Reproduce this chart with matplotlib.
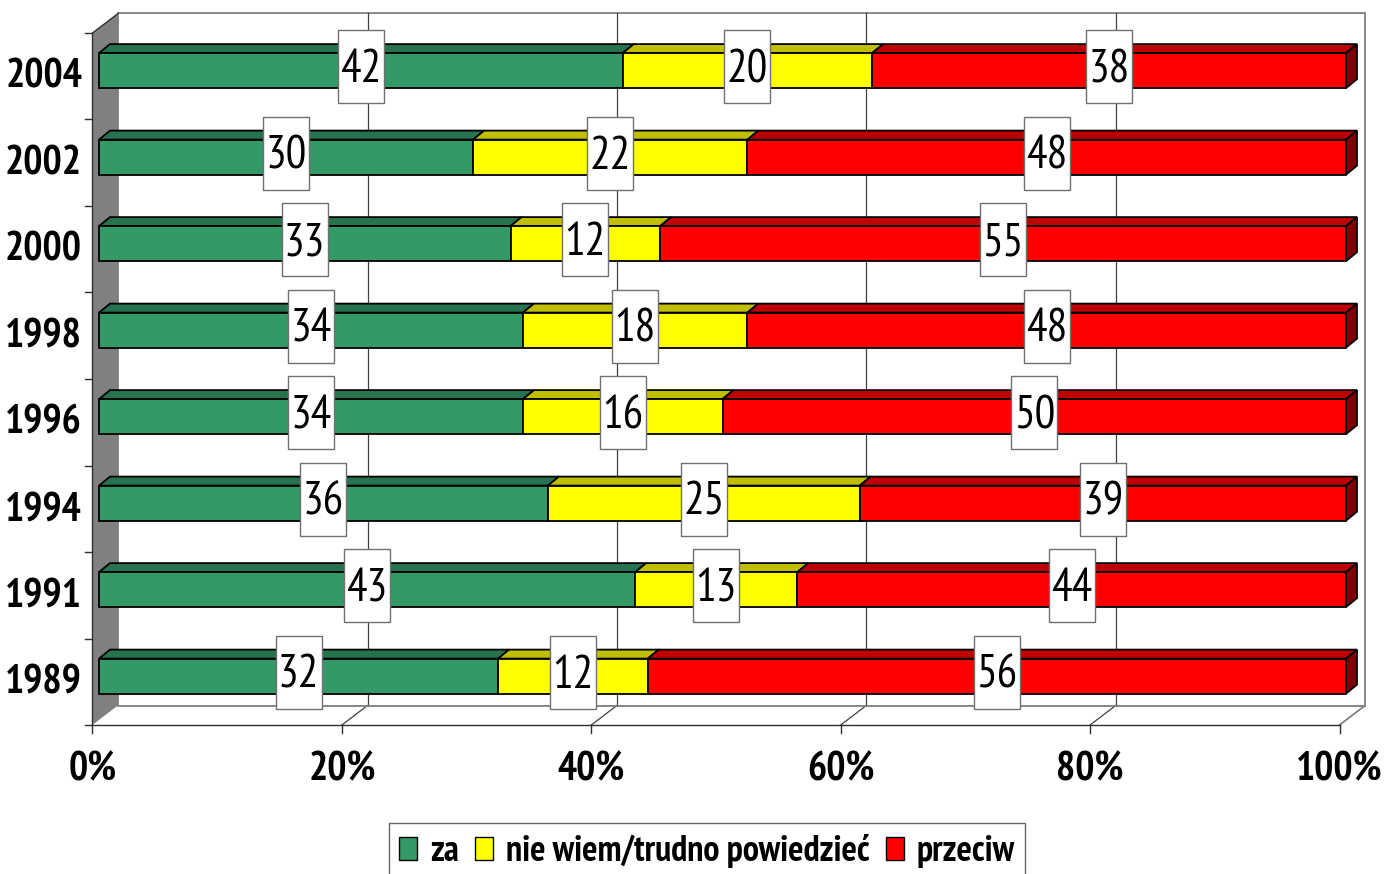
import numpy as np
import matplotlib.pyplot as plt
from matplotlib import font_manager
from matplotlib.patches import Polygon, Rectangle, Patch

# ==========================================
# DATA
# ==========================================

years = ["1989", "1991", "1994", "1996", "1998", "2000", "2002", "2004"]

za = [32, 43, 36, 34, 34, 33, 30, 42]
nie_wiem = [12, 13, 25, 16, 18, 12, 22, 20]
przeciw = [56, 44, 39, 50, 48, 55, 48, 38]

series_names = ["za", "nie wiem/trudno powiedzieć", "przeciw"]
front_colors = ["#339966", "#FFFF00", "#FF0000"]
top_colors = ["#267350", "#BFBF00", "#BF0000"]
side_color = "#800000"

x_ticks = [0, 20, 40, 60, 80, 100]

# ==========================================
# FONT - narrow sans if one is around
# ==========================================

available = {f.name for f in font_manager.fontManager.ttflist}
narrow = ["Liberation Sans Narrow", "Arial Narrow", "PT Sans Narrow",
          "Roboto Condensed", "Fira Sans Condensed", "Archivo Narrow"]
FONT = [f for f in narrow if f in available][:1] + ["DejaVu Sans"]

# ==========================================
# GEOMETRY (pseudo 3D)
# ==========================================

PX = 12.47      # pixels per percent
BAND = 86.5     # pixels per category

DX = 25.6 / PX          # wall depth, x
DY = 19.5 / BAND        # wall depth, y
BAR_X0 = 6.5 / PX       # bar front offset from front plane
BAR_Y0 = 0.065
BAR_H = 0.405
TOP_DX = 11 / PX        # bar depth
TOP_DY = 9 / BAND

fig = plt.figure(figsize=(13.89, 8.74), dpi=100)
fig.patch.set_facecolor("white")
ax = fig.add_axes([0, 0, 1, 1])
ax.set_xlim(-92.5 / PX, (1389 - 92.5) / PX)
ax.set_ylim(-0.5 - 149 / BAND, -0.5 + 725 / BAND)
ax.axis("off")

n = len(years)
y_lo, y_hi = -0.5, n - 0.5

# back wall
ax.add_patch(Rectangle((DX, y_lo + DY), 100, n, facecolor="white",
                       edgecolor="#808080", linewidth=1.3, zorder=1))

# left side wall
ax.add_patch(Polygon([(0, y_lo), (0, y_hi), (DX, y_hi + DY), (DX, y_lo + DY)],
                     closed=True, facecolor="#808080", edgecolor="none", zorder=2))
ax.plot([0, DX], [y_hi, y_hi + DY], color="#303030", lw=1.0, zorder=3)

# floor
ax.add_patch(Polygon([(0, y_lo), (100, y_lo), (100 + DX, y_lo + DY), (DX, y_lo + DY)],
                     closed=True, facecolor="white", edgecolor="none", zorder=2))
ax.plot([100, 100 + DX], [y_lo, y_lo + DY], color="#808080", lw=1.3, zorder=3)
ax.plot([DX, 100 + DX], [y_lo + DY, y_lo + DY], color="#808080", lw=1.3, zorder=3)

# gridlines on back wall and floor
for p in x_ticks[1:-1]:
    ax.plot([p + DX, p + DX], [y_lo + DY, y_hi + DY], color="#404040", lw=0.9, zorder=2)
    ax.plot([p, p + DX], [y_lo, y_lo + DY], color="#404040", lw=0.9, zorder=2)

# axis lines and ticks
ax.plot([0, 0], [y_lo, y_hi], color="#303030", lw=1.0, zorder=3)
ax.plot([0, 100], [y_lo, y_lo], color="#303030", lw=1.0, zorder=3)
for k in range(n + 1):
    ax.plot([-0.6, 0], [y_lo + k, y_lo + k], color="#303030", lw=1.0, zorder=3)
for p in x_ticks:
    ax.plot([p, p], [y_lo, y_lo - 0.095], color="#303030", lw=1.0, zorder=3)

# ==========================================
# BARS
# ==========================================

data = np.array([za, nie_wiem, przeciw], dtype=float)
ypos = np.arange(n) + BAR_Y0
lefts = np.zeros(n)

for s in range(3):
    vals = data[s]
    ax.barh(ypos, vals, left=lefts + BAR_X0, height=BAR_H,
            color=front_colors[s], edgecolor="black", linewidth=1.3, zorder=5)
    for i in range(n):
        x0 = lefts[i] + BAR_X0
        x1 = x0 + vals[i]
        yt = ypos[i] + BAR_H / 2
        ax.add_patch(Polygon([(x0, yt), (x1, yt), (x1 + TOP_DX, yt + TOP_DY),
                              (x0 + TOP_DX, yt + TOP_DY)], closed=True,
                             facecolor=top_colors[s], edgecolor="black",
                             linewidth=1.3, zorder=4))
        if s == 2:
            yb = ypos[i] - BAR_H / 2
            ax.add_patch(Polygon([(x1, yb), (x1, yt), (x1 + TOP_DX, yt + TOP_DY),
                                  (x1 + TOP_DX, yb + TOP_DY)], closed=True,
                                 facecolor=side_color, edgecolor="black",
                                 linewidth=1.3, zorder=4))
    # value labels
    for i in range(n):
        cx = lefts[i] + vals[i] / 2 + BAR_X0
        cy = i + 0.107
        bw, bh = 46 / PX, 73 / BAND
        ax.add_patch(Rectangle((cx - bw / 2, cy - bh / 2), bw, bh,
                               facecolor="white", edgecolor="#707070",
                               linewidth=1.0, zorder=8))
        ax.text(cx, cy - 0.035, f"{int(vals[i])}", ha="center", va="center",
                fontsize=33, family=FONT, color="black", zorder=9)
    lefts = lefts + vals

# ==========================================
# TICK LABELS
# ==========================================

for i, yr in enumerate(years):
    ax.text(-0.84, i - 0.01, yr, ha="right", va="center", fontsize=29,
            fontweight="bold", family=FONT, color="black")

for p in x_ticks:
    ax.text(p, -1.02, f"{p}%", ha="center", va="center", fontsize=29,
            fontweight="bold", family=FONT, color="black")

# ==========================================
# LEGEND
# ==========================================

handles = [Patch(facecolor=c, edgecolor="black", linewidth=1.0) for c in front_colors]
leg = fig.legend(handles, series_names, loc="upper center",
                 bbox_to_anchor=(707 / 1389, 1 - 823 / 874), ncol=3,
                 frameon=True, fancybox=False, edgecolor="#404040",
                 handlelength=0.5, handleheight=0.6, handletextpad=0.35,
                 columnspacing=0.45, borderpad=0.3, borderaxespad=0,
                 prop={"family": FONT, "weight": "bold", "size": 26})
leg.get_frame().set_linewidth(1.0)

fig.savefig("out.png", dpi=100)
